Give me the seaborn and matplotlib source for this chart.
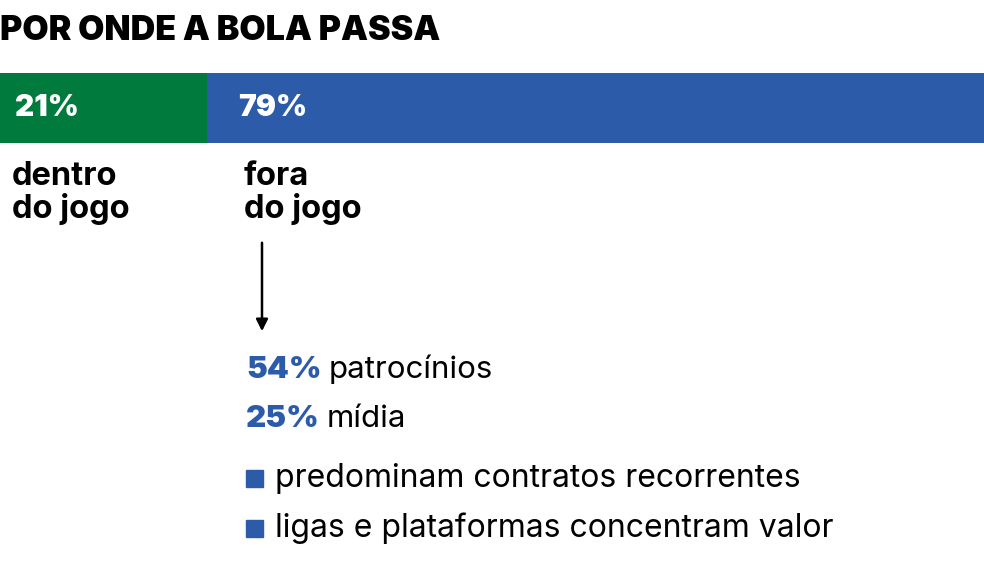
import matplotlib
matplotlib.use("Agg")
import matplotlib.pyplot as plt
import seaborn as sns
import pandas as pd

# dados
categorias = ["dentro do jogo", "fora do jogo"]
participacao = [21, 79]
rotulos_bar = ["21%", "79%"]
rotulos_cat = ["dentro\ndo jogo", "fora\ndo jogo"]
detalhe_pct = ["54%", "25%"]
detalhe_txt = ["patrocínios", "mídia"]
bullets = ["predominam contratos recorrentes", "ligas e plataformas concentram valor"]

VERDE = "#007A3D"
AZUL = "#2C5BA9"

sns.set_theme(style="white")
plt.rcParams['font.family'] = ['Inter', 'DejaVu Sans']

W, H = 984, 576
fig = plt.figure(figsize=(W / 100, H / 100), dpi=100)
fig.patch.set_facecolor("white")
renderer = fig.canvas.get_renderer()


def fx(px):
    return px / W


def fy(py):
    return 1 - py / H


# barra empilhada (acumulado desenhado de trás pra frente)
ax = fig.add_axes([0, fy(143), 1, 70 / H])
df = pd.DataFrame({"cat": categorias, "val": participacao})
df["acum"] = df["val"].cumsum()
cores = [VERDE, AZUL]
for i in reversed(range(len(df))):
    sns.barplot(x=[df["acum"].iloc[i]], y=[0], orient="h", color=cores[i],
                width=1, saturation=1, linewidth=0, ax=ax)
ax.set_xlim(0, 100)
ax.set_ylim(0.5, -0.5)
ax.axis("off")

# título
fig.text(fx(0), fy(40), "POR ONDE A BOLA PASSA", fontsize=24.5, fontweight="black",
         color="black", ha="left", va="baseline")

# rótulos na barra
for x, rot in zip([15, 238], rotulos_bar):
    fig.text(fx(x), fy(108), rot, color="white", fontsize=21.5, fontweight="black",
             ha="left", va="center")

# rótulos abaixo
for x, txt in zip([12, 244], rotulos_cat):
    l1, l2 = txt.split("\n")
    fig.text(fx(x), fy(185), l1, fontsize=23.5, fontweight="bold",
             ha="left", va="baseline", color="black")
    fig.text(fx(x), fy(218), l2, fontsize=23.5, fontweight="bold",
             ha="left", va="baseline", color="black")

# seta
fig.add_artist(matplotlib.patches.FancyArrowPatch(
    (fx(262), fy(240)), (fx(262), fy(334)), transform=fig.transFigure,
    arrowstyle="-|>,head_length=0.5,head_width=0.25", color="black", lw=1.8,
    mutation_scale=14))

# detalhes fora do jogo
for yb, pct, txt in zip([378, 427], detalhe_pct, detalhe_txt):
    t = fig.text(fx(246), fy(yb), pct, fontsize=22.5, fontweight="black", color=AZUL,
                 ha="left", va="baseline")
    x1 = t.get_window_extent(renderer).x1
    fig.text(fx(x1 + 7), fy(yb), txt, fontsize=22.5, fontweight="normal", color="black",
             ha="left", va="baseline")

for yc, txt in zip([478, 528], bullets):
    fig.patches.append(matplotlib.patches.Rectangle(
        (fx(246), fy(yc + 9)), 17 / W, 17 / H, transform=fig.transFigure,
        color=AZUL, figure=fig))
    fig.text(fx(275), fy(yc), txt, fontsize=23, color="black",
             ha="left", va="center")

fig.savefig("out.png", dpi=100, facecolor="white")
